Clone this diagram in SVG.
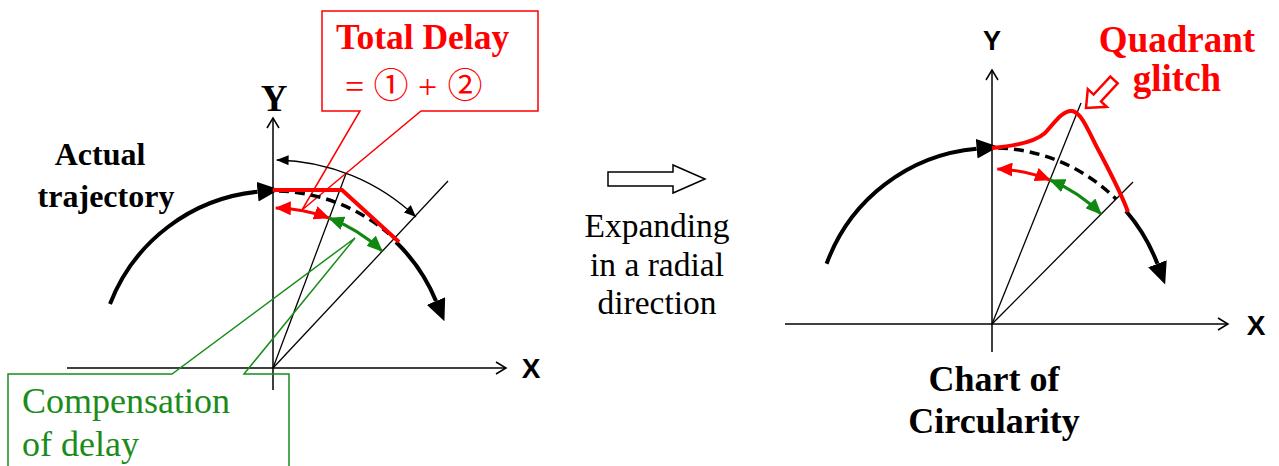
<svg xmlns="http://www.w3.org/2000/svg" width="1279" height="466" viewBox="0 0 1279 466">
<style>
.axis{stroke:#000;stroke-width:1.5;fill:none}
.rad{stroke:#000;stroke-width:1.3;fill:none}
.traj{stroke:#000;stroke-width:4;fill:none}
.dash{stroke:#000;stroke-width:3.5;fill:none;stroke-dasharray:10 6}
.redtraj{stroke:#f00;stroke-width:4;fill:none;stroke-linejoin:miter}
.reddbl{stroke:#f00;stroke-width:3;fill:none}
.grndbl{stroke:#118811;stroke-width:3;fill:none}
.dim{stroke:#000;stroke-width:1.3;fill:none}
.rcall{stroke:#f00;stroke-width:1.5;fill:#fff}
.gcall{stroke:#1a8c1a;stroke-width:1.5;fill:none}
.hollow{stroke:#000;stroke-width:1.5;fill:#fff}
.hollowr{stroke:#f00;stroke-width:2.5;fill:#fff}
.serif{font-family:"Liberation Serif","Times New Roman",serif}
.sans{font-family:"Liberation Sans",Arial,sans-serif}
.cjk{font-family:"Noto Sans CJK JP",sans-serif}
.b{font-weight:bold}
</style>
<defs>
<marker id="mTraj" markerUnits="userSpaceOnUse" markerWidth="22" markerHeight="20" viewBox="0 0 20 18" refX="0" refY="9" orient="auto"><path d="M0 0 L20 9 L0 18 z" fill="#000"/></marker>
<marker id="mDim" markerUnits="userSpaceOnUse" markerWidth="12" markerHeight="10" viewBox="0 0 12 10" refX="12" refY="5" orient="auto-start-reverse"><path d="M0 0 L12 5 L0 10 z" fill="#000"/></marker>
<marker id="mRed" markerUnits="userSpaceOnUse" markerWidth="16" markerHeight="14" viewBox="0 0 16 14" refX="15" refY="7" orient="auto-start-reverse"><path d="M0 0 L16 7 L0 14 z" fill="#f00"/></marker>
<marker id="mGrn" markerUnits="userSpaceOnUse" markerWidth="16" markerHeight="14" viewBox="0 0 16 14" refX="15" refY="7" orient="auto-start-reverse"><path d="M0 0 L16 7 L0 14 z" fill="#118811"/></marker>
<marker id="mAxis" markerUnits="userSpaceOnUse" markerWidth="14" markerHeight="14" viewBox="0 0 14 14" refX="12" refY="7" orient="auto"><path d="M2 1 L12 7 L2 13" fill="none" stroke="#000" stroke-width="1.5"/></marker>
</defs>

<!-- Left diagram -->
<g id="left-axes">
<line class="axis" x1="67" y1="368" x2="506" y2="368" marker-end="url(#mAxis)"/>
<line class="axis" x1="273" y1="390" x2="273" y2="118" marker-end="url(#mAxis)"/>
<text class="serif b" x="274" y="111" font-size="37" text-anchor="middle">Y</text>
<text class="sans b" x="531" y="378" font-size="28" text-anchor="middle">X</text>
</g>
<g id="left-radials">
<line class="rad" x1="273" y1="368" x2="350" y2="163"/>
<line class="rad" x1="273" y1="368" x2="448" y2="181"/>
</g>
<g id="left-callout-green">
<path class="gcall" d="M8 474 V374 H172 L355 238 L244 374 H289 V474"/>
<text class="serif" x="22" y="413" font-size="36" fill="#1a8c1a">Compensation</text>
<text class="serif" x="22" y="456" font-size="36" fill="#1a8c1a">of delay</text>
</g>
<g id="left-callout-red">
<path class="rcall" d="M322 11 H538 V111 H421 L302 210 L360 111 H322 Z"/>
<text class="serif b" x="336" y="49" font-size="35.5" fill="#f00">Total Delay</text>
<text font-size="34" fill="#f00" y="98"><tspan class="serif" x="345">=</tspan><tspan class="cjk" font-size="35" x="391" text-anchor="middle">①</tspan><tspan class="serif" x="418">+</tspan><tspan class="cjk" font-size="35" x="465" text-anchor="middle">②</tspan></text>
</g>
<g id="left-trajectory">
<path class="traj" d="M110 304 A177 177 0 0 1 257.6 191.7" marker-end="url(#mTraj)"/>
<path class="dash" d="M279 191 A177 177 0 0 1 389 234"/>
<path class="traj" d="M396 242 A177 177 0 0 1 436 301" marker-end="url(#mTraj)"/>
<path class="redtraj" d="M273 190 L342 190 L399 242"/>
<text class="serif b" x="100" y="165" font-size="32" text-anchor="middle">Actual</text>
<text class="serif b" x="106" y="207" font-size="32" text-anchor="middle">trajectory</text>
</g>
<g id="left-dimension">
<path class="dim" d="M276.6 160 A208 208 0 0 1 416 217" marker-start="url(#mDim)" marker-end="url(#mDim)"/>
<path class="reddbl" d="M275.8 208 A160 160 0 0 1 329 218" marker-start="url(#mRed)" marker-end="url(#mRed)"/>
<path class="grndbl" d="M329 218 A160 160 0 0 1 382 251" marker-start="url(#mGrn)" marker-end="url(#mGrn)"/>
</g>

<!-- Middle -->
<g id="middle">
<polygon class="hollow" points="608,172 673,172 673,165 705,179 673,193 673,186 608,186"/>
<text class="serif" x="657" y="237" font-size="33.5" text-anchor="middle">Expanding</text>
<text class="serif" x="657" y="276" font-size="33.5" text-anchor="middle">in a radial</text>
<text class="serif" x="657" y="314" font-size="33.5" text-anchor="middle">direction</text>
</g>

<!-- Right diagram -->
<g id="right-axes">
<line class="axis" x1="785" y1="324" x2="1228" y2="324" marker-end="url(#mAxis)"/>
<line class="axis" x1="992" y1="352" x2="992" y2="70" marker-end="url(#mAxis)"/>
<text class="sans b" x="992" y="50" font-size="27" text-anchor="middle">Y</text>
<text class="sans b" x="1256" y="335" font-size="28" text-anchor="middle">X</text>
</g>
<g id="right-radials">
<line class="rad" x1="992" y1="324" x2="1081" y2="103"/>
<line class="rad" x1="992" y1="324" x2="1133" y2="182"/>
</g>
<g id="right-trajectory">
<path class="traj" d="M826.6 263.8 A176 176 0 0 1 976.7 148.7" marker-end="url(#mTraj)"/>
<path class="dash" d="M998 148 A176 176 0 0 1 1116 199"/>
<path class="traj" d="M1126 211 A176 176 0 0 1 1157.4 263.8" marker-end="url(#mTraj)"/>
<path class="redtraj" d="M992 148 C1015 146 1035 142 1045 133 C1055 122 1063 110 1072 111 C1082 112 1090 135 1100 153 C1110 172 1122 195 1128 212"/>
<path class="reddbl" d="M997.4 169.1 A155 155 0 0 1 1050 180" marker-start="url(#mRed)" marker-end="url(#mRed)"/>
<path class="grndbl" d="M1050 180 A155 155 0 0 1 1101 214" marker-start="url(#mGrn)" marker-end="url(#mGrn)"/>
</g>
<g id="right-glitch">
<polygon class="hollowr" points="1110.3,76.6 1093.6,94.6 1087.8,89.2 1086,108 1106.8,106.8 1101,101.4 1117.7,83.4"/>
<text class="serif b" x="1177" y="52" font-size="37" text-anchor="middle" fill="#f00">Quadrant</text>
<text class="serif b" x="1177" y="91" font-size="37" text-anchor="middle" fill="#f00">glitch</text>
</g>
<g id="right-caption">
<text class="serif b" x="994" y="391" font-size="36" text-anchor="middle">Chart of</text>
<text class="serif b" x="994" y="433" font-size="36" text-anchor="middle">Circularity</text>
</g>
</svg>
